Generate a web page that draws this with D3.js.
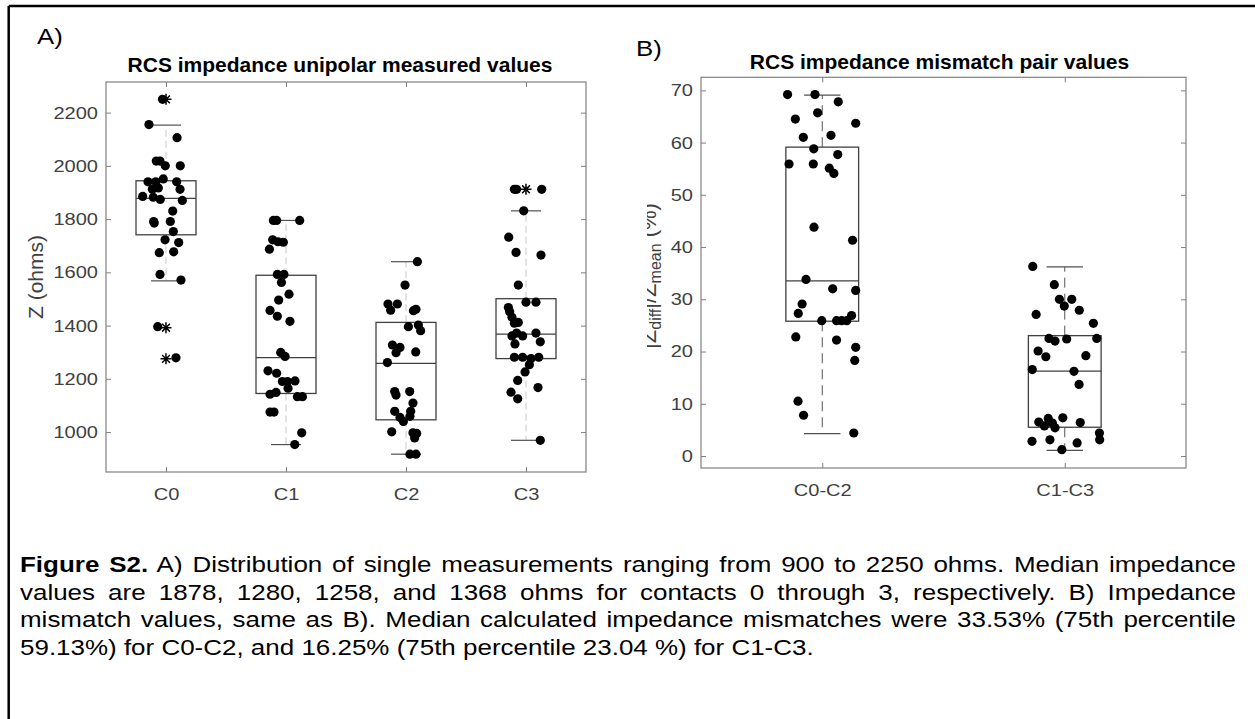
<!DOCTYPE html>
<html><head><meta charset="utf-8">
<script src="https://cdn.jsdelivr.net/npm/d3@7"></script>
<style>
body{margin:0;background:#fff;}
#wrap{position:relative;width:1255px;height:719px;overflow:hidden;background:#fff;}
svg{position:absolute;left:0;top:0;}
#caption{position:absolute;left:20px;top:551px;width:1030.5px;font-family:"Liberation Sans",Arial,sans-serif;font-size:22px;color:#000;transform:scaleX(1.18);transform-origin:0 0;}
#caption div{height:27.5px;line-height:27.5px;white-space:nowrap;}
#caption div.j{text-align:justify;text-align-last:justify;white-space:normal;}
</style></head><body>
<div id="wrap"><svg id="chart" width="1255" height="719"></svg>
<div id="caption"></div></div>
<script>
// ---------- Caption ----------
const captionLines = [
  ["Figure S2.", " A) Distribution of single measurements ranging from 900 to 2250 ohms. Median impedance"],
  ["", "values are 1878, 1280, 1258, and 1368 ohms for contacts 0 through 3, respectively. B) Impedance"],
  ["", "mismatch values, same as B). Median calculated impedance mismatches were 33.53% (75th percentile"],
  ["", "59.13%) for C0-C2, and 16.25% (75th percentile 23.04 %) for C1-C3."]
];

// ---------- Panel A data ----------
const catsA = ["C0","C1","C2","C3"];
const yTicksA = [1000,1200,1400,1600,1800,2000,2200];
const c0Vals = [2250,2155,2106,2018,2018,2000,2000,1940,1940,1951,1940,1912,1917,1912,1885,1882,1874,1870,1830,1791,1785,1791,1753,1722,1712,1674,1677,1592,1571,1396,1279];
const c0Jit  = [-0.029,-0.142,0.092,-0.081,-0.05,-0.006,0.119,-0.15,-0.086,-0.023,0.089,-0.114,-0.064,0.117,-0.194,-0.106,-0.048,0.136,0.056,-0.103,-0.098,0.036,0.061,-0.008,0.106,-0.056,0.064,-0.05,0.125,-0.069,0.083];
const c1Vals = [1795,1795,1795,1722,1715,1713,1687,1592,1592,1562,1518,1496,1457,1435,1416,1299,1284,1230,1221,1190,1190,1192,1165,1142,1149,1133,1133,1075,1075,997,953];
const c1Jit  = [-0.105,-0.078,0.114,-0.111,-0.067,-0.022,-0.138,-0.072,-0.017,-0.038,0.025,-0.061,-0.133,-0.072,0.033,-0.044,-0.008,-0.15,-0.078,-0.03,0.012,0.075,0.017,-0.133,-0.083,0.095,0.137,-0.133,-0.1,0.131,0.073];
const c2Vals = [1640,1552,1481,1458,1481,1456,1461,1396,1402,1381,1327,1318,1298,1301,1261,1152,1139,1152,1109,1078,1078,1055,1040,1059,1001,997,995,978,917,917];
const c2Jit  = [0.095,-0.008,-0.15,-0.128,-0.072,0.062,0.083,0.02,0.103,0.122,-0.113,-0.05,-0.083,0.081,-0.155,-0.094,-0.083,0.031,0.058,-0.094,0.039,-0.05,-0.022,0.033,-0.119,0.058,0.089,0.072,0.033,0.083];
const c3Vals = [1912,1912,1912,1831,1732,1675,1665,1552,1488,1488,1468,1452,1431,1409,1412,1361,1372,1361,1372,1339,1331,1281,1281,1276,1281,1253,1226,1194,1167,1150,1125,969];
const c3Jit  = [-0.097,-0.078,0.131,-0.019,-0.144,-0.083,0.125,-0.064,0,0.083,-0.147,-0.136,-0.117,-0.097,-0.064,-0.117,-0.078,-0.028,0.083,0.119,-0.092,-0.097,-0.028,0.042,0.106,0.028,-0.008,-0.069,0.1,-0.125,-0.069,0.119];
const q1A   = [1741,1145,1046,1276];
const medA  = [1878,1280,1258,1368];
const q3A   = [1944,1589,1412,1501];
const whLoA = [1568,953,917,969];
const whHiA = [2153,1795,1640,1831];
const outA  = [[2250,1392,1275],[],[],[1912]];

// ---------- Panel B data ----------
const catsB = ["C0-C2","C1-C3"];
const yTicksB = [0,10,20,30,40,50,60,70];
const c0c2Vals = [69.2,69.2,67.8,64.5,65.7,63.7,61.0,61.4,58.8,57.7,55.9,55.9,55.1,54.1,43.8,41.3,33.8,32.0,31.7,29.1,27.3,25.9,25.9,25.9,25.9,26.9,22.8,22.2,20.8,18.3,10.5,7.8,4.4];
const c0c2Jit  = [-0.143,-0.03,0.066,-0.111,-0.019,0.138,-0.078,0.036,-0.035,0.064,-0.137,-0.037,0.029,0.048,-0.034,0.125,-0.067,0.043,0.138,-0.083,-0.099,-0.002,0.059,0.08,0.101,0.121,-0.109,0.059,0.138,0.134,-0.1,-0.077,0.13];
const c1c3Vals = [36.3,32.8,30.0,30.0,28.7,27.1,27.9,25.4,22.5,22.0,22.4,22.5,20.1,19.0,19.2,16.55,16.2,13.7,7.2,7.3,6.5,5.75,6.3,5.4,6.4,4.4,3.1,2.8,3.1,2.5,1.2];
const c1c3Jit  = [-0.132,-0.043,-0.022,0.029,-0.002,-0.118,0.06,0.118,-0.065,-0.04,0.008,0.132,-0.11,-0.078,0.087,-0.134,0.038,0.059,-0.068,-0.008,-0.107,-0.084,-0.051,-0.04,0.064,0.143,0.144,-0.135,-0.061,0.051,-0.012];
const q1B   = [25.8,5.5];
const medB  = [33.53,16.25];
const q3B   = [59.13,23.04];
const whLoB = [4.29,1.09];
const whHiB = [69.1,36.2];
const outB  = [[],[]];

// ---------- caption ----------
const cap = d3.select("#caption");
captionLines.forEach((l,i)=>{
  const d = cap.append("div").attr("class", i<3 ? "j" : null);
  if (l[0]) d.append("b").text(l[0]);
  d.append("span").text(l[1]);
});

// ---------- drawing ----------
const svg = d3.select("#chart");
svg.append("rect").attr("width",1255).attr("height",719).attr("fill","#fff");
svg.append("line").attr("x1",8.7).attr("x2",1255).attr("y1",6).attr("y2",6).attr("stroke","#000").attr("stroke-width",2.5);
svg.append("line").attr("x1",8.7).attr("x2",8.7).attr("y1",6).attr("y2",719).attr("stroke","#000").attr("stroke-width",2.5);

const FONT = "'Liberation Sans', Arial, Helvetica, sans-serif";
const AX = "#808080", TXT = "#404040", SX = 1.18;

function star(r){const d=r*0.7071;return `M${-r},0L${r},0M0,${-r}L0,${r}M${-d},${-d}L${d},${d}M${-d},${d}L${d},${-d}`;}
function stretch(sel){ sel.each(function(){ const t=d3.select(this); const x=+t.attr("x")||0; t.attr("x",0).attr("transform",`translate(${x},0) scale(${SX},1)`); }); }

function panel(cfg){
  const g = svg.append("g");
  const x = d3.scaleLinear().domain([0.5, cfg.cats.length+0.5]).range([cfg.left, cfg.right]);
  const y = d3.scaleLinear().domain(cfg.yDom).range([cfg.bottom, cfg.top]);
  const idx = cfg.cats.map((c,i)=>i+1);
  const styleAxis = sel => { sel.select(".domain").remove(); sel.selectAll("line").attr("stroke",AX); sel.selectAll("text").attr("fill",TXT).attr("font-family",FONT).attr("font-size",cfg.tickFont).call(stretch); };
  g.append("g").attr("transform",`translate(${cfg.left},0)`).call(d3.axisLeft(y).tickValues(cfg.yTicks).tickSize(-5).tickPadding(8).tickFormat(d3.format("d"))).call(styleAxis);
  g.append("g").attr("transform",`translate(${cfg.right},0)`).call(d3.axisRight(y).tickValues(cfg.yTicks).tickSize(-5).tickFormat("")).call(styleAxis);
  g.append("g").attr("transform",`translate(0,${cfg.top})`).call(d3.axisTop(x).tickValues(idx).tickSize(-5).tickFormat("")).call(styleAxis);
  g.append("g").attr("transform",`translate(0,${cfg.bottom})`).call(d3.axisBottom(x).tickValues(idx).tickSize(-5).tickPadding(16).tickFormat(i=>cfg.cats[i-1])).call(styleAxis);
  g.append("rect").attr("x",cfg.left).attr("y",cfg.top).attr("width",cfg.right-cfg.left).attr("height",cfg.bottom-cfg.top).attr("fill","none").attr("stroke",AX).attr("stroke-width",1.2);
  const bw = cfg.boxHalf, cw = cfg.boxHalf/2;
  idx.forEach((c,i)=>{
    g.append("line").attr("x1",x(c)).attr("x2",x(c)).attr("y1",y(cfg.q3[i])).attr("y2",y(cfg.whHi[i])).attr("stroke",cfg.whColor).attr("stroke-dasharray",cfg.dash).attr("stroke-width",1);
    g.append("line").attr("x1",x(c)).attr("x2",x(c)).attr("y1",y(cfg.q1[i])).attr("y2",y(cfg.whLo[i])).attr("stroke",cfg.whColor).attr("stroke-dasharray",cfg.dash).attr("stroke-width",1);
    [cfg.whHi[i],cfg.whLo[i]].forEach(v=>g.append("line").attr("x1",x(c-cw)).attr("x2",x(c+cw)).attr("y1",y(v)).attr("y2",y(v)).attr("stroke","#505050").attr("stroke-width",1.2));
    g.append("rect").attr("x",x(c-bw)).attr("width",x(c+bw)-x(c-bw)).attr("y",y(cfg.q3[i])).attr("height",y(cfg.q1[i])-y(cfg.q3[i])).attr("fill","none").attr("stroke","#404040").attr("stroke-width",1.3);
    g.append("line").attr("x1",x(c-bw)).attr("x2",x(c+bw)).attr("y1",y(cfg.med[i])).attr("y2",y(cfg.med[i])).attr("stroke","#404040").attr("stroke-width",1.3);
    cfg.out[i].forEach(v=>g.append("path").attr("d",star(5.5)).attr("transform",`translate(${x(c)},${y(v)})`).attr("stroke","#000").attr("stroke-width",1.5).attr("fill","none"));
  });
  cfg.vals.forEach((vals,i)=>{
    g.selectAll(null).data(vals.map((v,k)=>({v, j:cfg.jit[i][k]}))).enter().append("circle")
      .attr("cx",d=>x(i+1+d.j)).attr("cy",d=>y(d.v)).attr("r",4.6).attr("fill","#000");
  });
  g.append("text").attr("x",cfg.titleX).attr("y",cfg.titleY).attr("text-anchor","middle").attr("font-family",FONT).attr("font-weight","bold").attr("font-size",21).attr("fill","#000").text(cfg.title);
  g.append("text").attr("transform",`translate(${cfg.tagX},${cfg.tagY}) scale(1.2,1)`).attr("font-family",FONT).attr("font-size",21.5).attr("fill","#000").text(cfg.tag);
  return {g,x,y};
}

const A = panel({cats:catsA, yTicks:yTicksA, yDom:[850,2315], left:106, right:586, top:82, bottom:472,
  q1:q1A, med:medA, q3:q3A, whLo:whLoA, whHi:whHiA, out:outA, boxHalf:0.25,
  vals:[c0Vals,c1Vals,c2Vals,c3Vals], jit:[c0Jit,c1Jit,c2Jit,c3Jit],
  whColor:"#c8c8c8", dash:"7,4", tickFont:17,
  title:"RCS impedance unipolar measured values", titleX:340, titleY:72, tag:"A)", tagX:37, tagY:43.5});
A.g.append("text").attr("transform","translate(43,277) rotate(-90)").attr("text-anchor","middle").attr("font-family",FONT).attr("font-size",21).attr("fill",TXT).text("Z (ohms)");

const B = panel({cats:catsB, yTicks:yTicksB, yDom:[-2.3,72.5], left:701, right:1186, top:77.3, bottom:468,
  q1:q1B, med:medB, q3:q3B, whLo:whLoB, whHi:whHiB, out:outB, boxHalf:0.15,
  vals:[c0c2Vals,c1c3Vals], jit:[c0c2Jit,c1c3Jit],
  whColor:"#555", dash:"10,6", tickFont:17,
  title:"RCS impedance mismatch pair values", titleX:939.5, titleY:68.5, tag:"B)", tagX:636, tagY:56});
// clipped y label for panel B
svg.append("clipPath").attr("id","clipB").append("rect").attr("x",647).attr("y",0).attr("width",50).attr("height",719);
const lg = B.g.append("g").attr("clip-path","url(#clipB)");
const lab = lg.append("text").attr("transform","translate(656,276) rotate(-90)").attr("text-anchor","middle").attr("font-family",FONT).attr("font-size",22).attr("fill",TXT);
lab.append("tspan").text("|Z");
lab.append("tspan").attr("font-size",16).attr("dy",5).text("diff");
lab.append("tspan").attr("dy",-5).text("|/Z");
lab.append("tspan").attr("font-size",16).attr("dy",5).text("mean");
lab.append("tspan").attr("dy",-5).text(" (%)");
</script>
</body></html>
